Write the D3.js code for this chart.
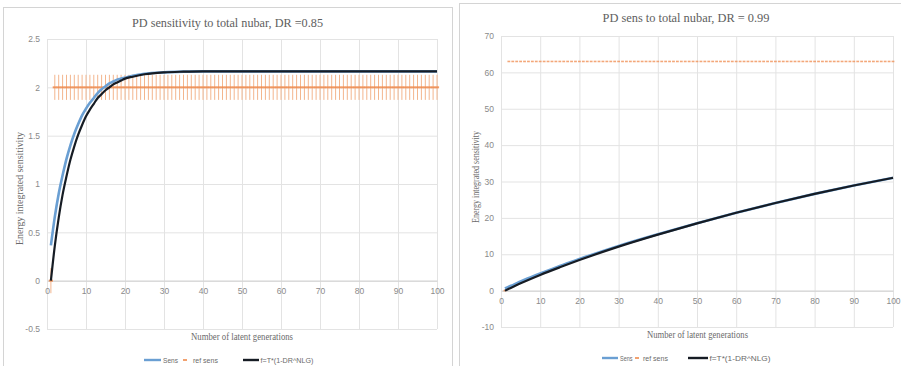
<!DOCTYPE html>
<html>
<head>
<meta charset="utf-8">
<script src="https://cdn.jsdelivr.net/npm/d3@7"></script>
<style>
  body { margin: 0; background: #fff; }
  svg { display: block; }
</style>
</head>
<body>
<svg id="chart" width="901" height="366"></svg>
<script>
// series names shown in both legends
const seriesNames = ["Sens", "ref sens", "f=T*(1-DR^NLG)"]

// ---- left chart, DR = 0.85 ----
const titleL = "PD sensitivity to total nubar, DR =0.85"
const xL = [1, 2, 3, 4, 5, 6, 7, 8, 9, 10, 11, 12, 13, 14, 15, 16, 17, 18, 19, 20, 22, 25, 30, 35, 40, 50, 60, 70, 80, 90, 100]
const sensL = [0.365, 0.66, 0.90, 1.09, 1.26, 1.40, 1.52, 1.62, 1.71, 1.78, 1.84, 1.89, 1.94, 1.98, 2.01, 2.04, 2.06, 2.08, 2.09, 2.10,
  2.12, 2.14, 2.155, 2.162, 2.165, 2.165, 2.165, 2.165, 2.165, 2.165, 2.165]
const fitL = [0, 0.36, 0.65, 0.89, 1.08, 1.25, 1.39, 1.51, 1.61, 1.70, 1.77, 1.83, 1.89, 1.93, 1.97, 2.00, 2.03, 2.05, 2.07, 2.09,
  2.11, 2.135, 2.155, 2.162, 2.165, 2.165, 2.165, 2.165, 2.165, 2.165, 2.165]
// ref sens, one value per generation 1..100
const refL = [0, 2.0, 2.0, 2.0, 2.0, 2.0, 2.0, 2.0, 2.0, 2.0, 2.0, 2.0, 2.0, 2.0, 2.0, 2.0, 2.0, 2.0, 2.0, 2.0,
  2.0, 2.0, 2.0, 2.0, 2.0, 2.0, 2.0, 2.0, 2.0, 2.0, 2.0, 2.0, 2.0, 2.0, 2.0, 2.0, 2.0, 2.0, 2.0, 2.0,
  2.0, 2.0, 2.0, 2.0, 2.0, 2.0, 2.0, 2.0, 2.0, 2.0, 2.0, 2.0, 2.0, 2.0, 2.0, 2.0, 2.0, 2.0, 2.0, 2.0,
  2.0, 2.0, 2.0, 2.0, 2.0, 2.0, 2.0, 2.0, 2.0, 2.0, 2.0, 2.0, 2.0, 2.0, 2.0, 2.0, 2.0, 2.0, 2.0, 2.0,
  2.0, 2.0, 2.0, 2.0, 2.0, 2.0, 2.0, 2.0, 2.0, 2.0, 2.0, 2.0, 2.0, 2.0, 2.0, 2.0, 2.0, 2.0, 2.0, 2.0]
const refErrL = 0.13
const yTicksL = [-0.5, 0, 0.5, 1, 1.5, 2, 2.5]

// ---- right chart, DR = 0.99 ----
const titleR = "PD sens to total nubar, DR = 0.99"
const xR = [1, 2, 3, 5, 10, 15, 20, 30, 40, 50, 60, 70, 80, 90, 100]
const sensR = [0.6, 1.1, 1.5, 2.5, 4.7, 6.8, 8.7, 12.3, 15.5, 18.5, 21.4, 24.1, 26.6, 28.9, 31.0]
const fitR = [0, 0.5, 1.0, 2.0, 4.3, 6.4, 8.4, 12.1, 15.4, 18.5, 21.4, 24.1, 26.6, 28.9, 31.0]
const refR = [0, 63, 63, 63, 63, 63, 63, 63, 63, 63, 63, 63, 63, 63, 63, 63, 63, 63, 63, 63,
  63, 63, 63, 63, 63, 63, 63, 63, 63, 63, 63, 63, 63, 63, 63, 63, 63, 63, 63, 63,
  63, 63, 63, 63, 63, 63, 63, 63, 63, 63, 63, 63, 63, 63, 63, 63, 63, 63, 63, 63,
  63, 63, 63, 63, 63, 63, 63, 63, 63, 63, 63, 63, 63, 63, 63, 63, 63, 63, 63, 63,
  63, 63, 63, 63, 63, 63, 63, 63, 63, 63, 63, 63, 63, 63, 63, 63, 63, 63, 63, 63]
const refErrR = 0
const yTicksR = [-10, 0, 10, 20, 30, 40, 50, 60, 70]

const xTicks = [0, 10, 20, 30, 40, 50, 60, 70, 80, 90, 100]
const xTitle = "Number of latent generations"
const yTitle = "Energy integrated sensitivity"

const svg = d3.select("#chart")

const blue = "#6a9fd3", orange = "#ef8a4c", dark = "#161c24", grid = "#e3e3e3"

function drawChart(c) {
  // panel frame
  svg.append("rect")
    .attr("x", c.panel[0] + 0.5).attr("y", c.panel[1] + 0.5)
    .attr("width", c.panel[2]).attr("height", c.panel[3])
    .attr("fill", "#fff").attr("stroke", "#d4d4d4")

  var x = d3.scaleLinear().domain([0, 100]).range([c.x0, c.x1])
  var y = d3.scaleLinear().domain(c.yDomain).range([c.yBot, c.yTop])

  // horizontal grid + y labels
  var gy = svg.append("g")
    .attr("transform", "translate(" + c.x0 + ",0)")
    .call(d3.axisLeft(y).tickValues(c.yTicks).tickSize(-(c.x1 - c.x0)).tickPadding(7).tickFormat(String))
  gy.select(".domain").remove()
  gy.selectAll("line").attr("stroke", grid)
  gy.selectAll("text").attr("fill", "#8a8a8a").style("font", "8.5px 'Liberation Sans', Arial, sans-serif")

  // vertical grid
  var gx = svg.append("g")
    .attr("transform", "translate(0," + c.yBot + ")")
    .call(d3.axisBottom(x).tickValues(xTicks).tickSize(-(c.yBot - c.yTop)).tickFormat(""))
  gx.select(".domain").remove()
  gx.selectAll("line").attr("stroke", grid)

  // x labels hang under the zero line
  var gx0 = svg.append("g")
    .attr("transform", "translate(0," + y(0) + ")")
    .call(d3.axisBottom(x).tickValues(xTicks).tickSize(0).tickPadding(7).tickFormat(String))
  gx0.select(".domain").attr("stroke", "#d0d0d0")
  gx0.selectAll("text").attr("fill", "#8a8a8a").style("font", "8.5px 'Liberation Sans', Arial, sans-serif")

  // ref sens: error bars and dash markers
  var refPts = c.ref.map(function (v, i) { return { n: i + 1, v: v } })
  if (c.refErr > 0) {
    svg.append("g").selectAll("line").data(refPts).enter().append("line")
      .attr("x1", function (d) { return x(d.n) }).attr("x2", function (d) { return x(d.n) })
      .attr("y1", function (d) { return y(d.v - c.refErr) })
      .attr("y2", function (d) { return y(d.v + c.refErr) })
      .attr("stroke", "#f3b68e").attr("stroke-width", 1)
  }
  svg.append("g").selectAll("rect").data(refPts).enter().append("rect")
    .attr("x", function (d) { return x(d.n) - c.dashW / 2 })
    .attr("y", function (d) { return y(d.v) - c.dashH / 2 })
    .attr("width", c.dashW).attr("height", c.dashH)
    .attr("fill", orange).attr("opacity", c.dashOp)

  var line = d3.line()
    .x(function (d) { return x(d[0]) })
    .y(function (d) { return y(d[1]) })
    .curve(d3.curveMonotoneX)

  svg.append("path")
    .datum(c.xs.map(function (n, i) { return [n, c.sens[i]] }))
    .attr("d", line).attr("fill", "none")
    .attr("stroke", blue).attr("stroke-width", 2.6)

  svg.append("path")
    .datum(c.xs.map(function (n, i) { return [n, c.fit[i]] }))
    .attr("d", line).attr("fill", "none")
    .attr("stroke", dark).attr("stroke-width", 2.2)

  // titles
  svg.append("text")
    .attr("x", c.title[0]).attr("y", c.title[1]).attr("text-anchor", "middle")
    .attr("textLength", c.title[2]).attr("lengthAdjust", "spacingAndGlyphs")
    .attr("fill", "#5e5e5e").style("font", "13.5px 'Liberation Serif', 'Times New Roman', serif")
    .text(c.titleText)

  svg.append("text")
    .attr("x", c.xt[0]).attr("y", c.xt[1]).attr("text-anchor", "middle")
    .attr("textLength", c.xt[2]).attr("lengthAdjust", "spacingAndGlyphs")
    .attr("fill", "#6a6a6a").style("font", "9.5px 'Liberation Serif', 'Times New Roman', serif")
    .text(xTitle)

  svg.append("text")
    .attr("transform", "translate(" + c.yt[0] + "," + c.yt[1] + ") rotate(-90)")
    .attr("text-anchor", "middle")
    .attr("textLength", c.yt[2]).attr("lengthAdjust", "spacingAndGlyphs")
    .attr("fill", "#6a6a6a").style("font", "9.5px 'Liberation Serif', 'Times New Roman', serif")
    .text(yTitle)

  // legend: [blue x1, x2, text x, dash x, text x, black x1, x2, text x]
  var lg = svg.append("g").style("font", "7px 'Liberation Sans', Arial, sans-serif").attr("fill", "#6a6a6a")
  var ly = c.legY, L = c.leg
  lg.append("line").attr("x1", L[0]).attr("x2", L[1]).attr("y1", ly).attr("y2", ly)
    .attr("stroke", blue).attr("stroke-width", 2.4)
  lg.append("text").attr("x", L[2]).attr("y", ly + 2.5)
    .attr("textLength", c.legSensLen).attr("lengthAdjust", "spacingAndGlyphs").text(seriesNames[0])
  lg.append("rect").attr("x", L[3] - 2).attr("y", ly - 0.8).attr("width", 4).attr("height", 1.6)
    .attr("fill", orange)
  lg.append("text").attr("x", L[4]).attr("y", ly + 2.5).text(seriesNames[1])
  lg.append("line").attr("x1", L[5]).attr("x2", L[6]).attr("y1", ly).attr("y2", ly)
    .attr("stroke", dark).attr("stroke-width", 2.4)
  lg.append("text").attr("x", L[7]).attr("y", ly + 2.5)
    .attr("textLength", c.legFitLen).attr("lengthAdjust", "spacingAndGlyphs").text(seriesNames[2])
}

drawChart({
  panel: [3, 7, 449, 370],
  x0: 47, x1: 437, yTop: 39, yBot: 329,
  yDomain: [-0.5, 2.5], yTicks: yTicksL,
  xs: xL, sens: sensL, fit: fitL, ref: refL, refErr: refErrL,
  dashW: 4.2, dashH: 2, dashOp: 0.85,
  titleText: titleL, title: [227.5, 27, 191],
  xt: [242, 340, 102], yt: [23, 188.5, 113],
  legY: 360, leg: [144, 161, 163, 185, 193, 243, 259, 260.5], legSensLen: 15, legFitLen: 53
})

drawChart({
  panel: [459, 3, 450, 380],
  x0: 501, x1: 893, yTop: 36, yBot: 327,
  yDomain: [-10, 70], yTicks: yTicksR,
  xs: xR, sens: sensR, fit: fitR, ref: refR, refErr: refErrR,
  dashW: 2.8, dashH: 1.6, dashOp: 0.75,
  titleText: titleR, title: [686, 22, 167],
  xt: [697.5, 338, 101], yt: [479, 177, 92],
  legY: 358, leg: [602, 618, 620, 637, 643, 688, 708, 709.5], legSensLen: 12.5, legFitLen: 61
})
</script>
</body>
</html>
